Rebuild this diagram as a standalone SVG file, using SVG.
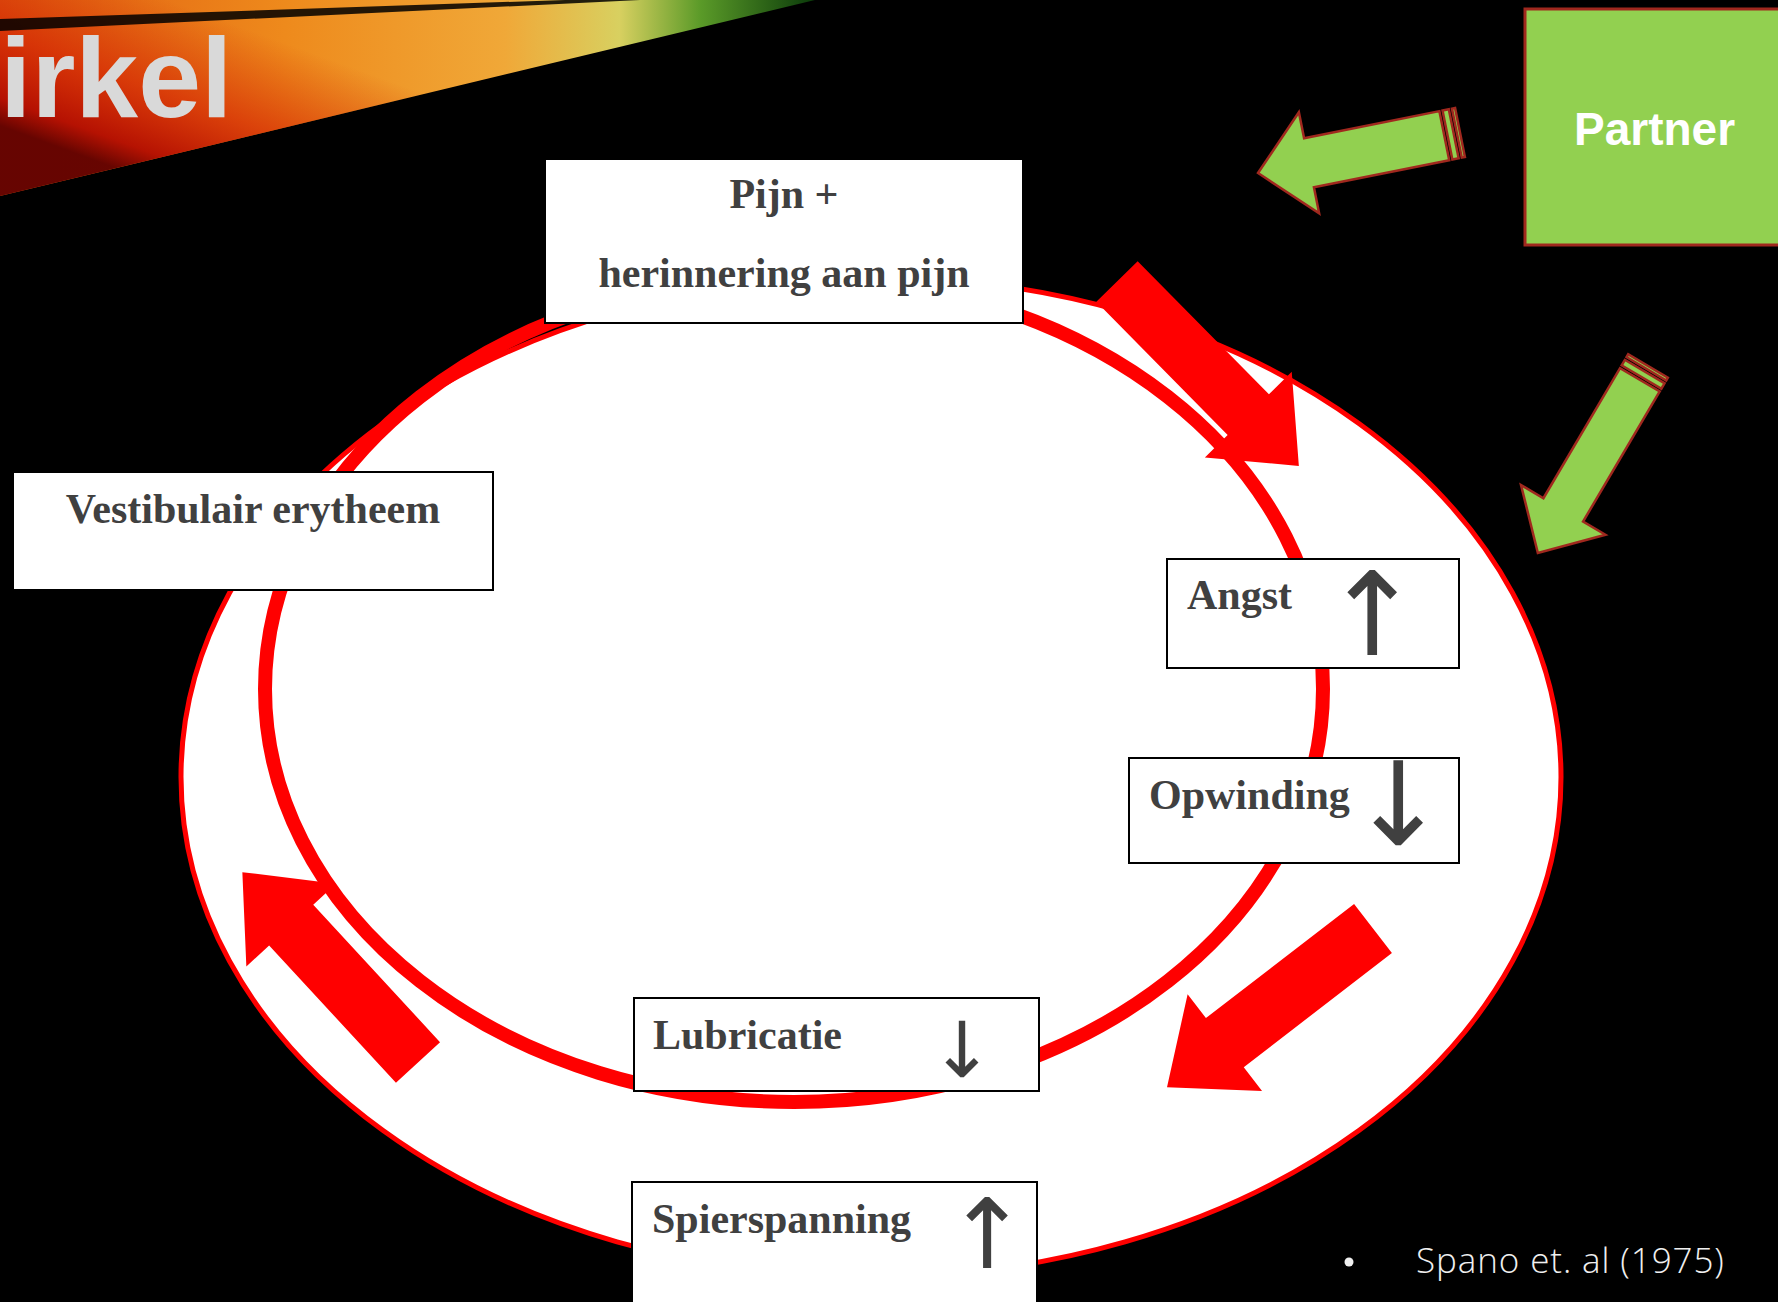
<svg xmlns="http://www.w3.org/2000/svg" width="1778" height="1302" viewBox="0 0 1778 1302">
<defs>
<linearGradient id="streakX" gradientUnits="userSpaceOnUse" x1="0" y1="0" x2="815" y2="0">
<stop offset="0" stop-color="#e05a10"/>
<stop offset="0.35" stop-color="#ee8a1c"/>
<stop offset="0.62" stop-color="#f0a838"/>
<stop offset="0.76" stop-color="#d8d060"/>
<stop offset="0.86" stop-color="#5a9a28"/>
<stop offset="1" stop-color="#0a3a0a"/>
</linearGradient>
<linearGradient id="streakY" gradientUnits="userSpaceOnUse" x1="250" y1="30" x2="190" y2="195">
<stop offset="0" stop-color="#d02000" stop-opacity="0"/>
<stop offset="0.5" stop-color="#d01800" stop-opacity="0.6"/>
<stop offset="0.85" stop-color="#b00800" stop-opacity="0.9"/>
<stop offset="1" stop-color="#600000" stop-opacity="0.95"/>
</linearGradient>
<style>
.box{fill:#fff;stroke:#000;stroke-width:2}
.lbl{font-family:"Liberation Serif","Times New Roman",serif;font-weight:bold;font-size:42px;fill:#404040}
.sym{font-family:"DejaVu Sans",sans-serif;fill:#404040}
.red{fill:#ff0000}
.grn{fill:#92d050;stroke:#a0281e;stroke-width:2.5}
</style>
</defs>
<rect x="0" y="0" width="1778" height="1302" fill="#000"/>
<g id="header">
<polygon points="0,0 815,0 0,196" fill="url(#streakX)"/>
<polygon points="0,0 815,0 0,196" fill="url(#streakY)"/>
<polygon points="0,19 565,0 640,0 0,31" fill="#000" opacity="0.85"/>
<text x="0" y="117" font-family="Liberation Sans, Arial, sans-serif" font-weight="bold" font-size="113" fill="#d9d9d9">irkel</text>
</g>
<g id="cycle">
<ellipse cx="871" cy="777" rx="690" ry="500" fill="#fff" stroke="#ff0000" stroke-width="5"/>
<ellipse cx="794" cy="689" rx="529" ry="413" fill="none" stroke="#ff0000" stroke-width="14"/>
</g>
<g id="connectors">
<polygon class="red" transform="translate(1117,281.5) rotate(45.4)" points="0,-29 187,-29 187,-61 259,0 187,61 187,29 0,29"/>
<polygon class="red" transform="translate(1373,928.5) rotate(142.4)" points="0,-31 187,-31 187,-61 260,0 187,61 187,31 0,31"/>
<polygon class="red" transform="translate(418,1062.5) rotate(-132.7)" points="0,-30 187,-30 187,-61 259,0 187,61 187,30 0,30"/>
<g transform="translate(1460,132.5) rotate(168.66)">
<rect class="grn" x="0" y="-25" width="3.2" height="50"/>
<rect class="grn" x="6.4" y="-25" width="6.4" height="50"/>
<polygon class="grn" points="16,-25 154,-25 154,-51.5 206,0 154,51.5 154,25 16,25"/>
</g>
<g transform="translate(1648,366) rotate(120.5)">
<rect class="grn" x="0" y="-23" width="3.2" height="46"/>
<rect class="grn" x="6.4" y="-23" width="6.4" height="46"/>
<polygon class="grn" points="16,-23 167,-23 167,-49 217,0 167,49 167,23 16,23"/>
</g>
</g>
<g id="node-pijn">
<rect class="box" x="545" y="159" width="478" height="164"/>
<text class="lbl" x="784" y="208" text-anchor="middle">Pijn +</text>
<text class="lbl" x="784" y="287" text-anchor="middle">herinnering aan pijn</text>
</g>
<g id="node-vestibulair">
<rect class="box" x="13" y="472" width="480" height="118"/>
<text class="lbl" x="253" y="523" text-anchor="middle">Vestibulair erytheem</text>
</g>
<g id="node-angst">
<rect class="box" x="1167" y="559" width="292" height="109"/>
<text class="lbl" x="1187" y="609">Angst</text>
<text class="sym" x="1372" y="655" text-anchor="middle" font-size="116">↑</text>
</g>
<g id="node-opwinding">
<rect class="box" x="1129" y="758" width="330" height="105"/>
<text class="lbl" x="1149" y="809">Opwinding</text>
<text class="sym" x="1398" y="845" text-anchor="middle" font-size="116">↓</text>
</g>
<g id="node-lubricatie">
<rect class="box" x="634" y="998" width="405" height="93"/>
<text class="lbl" x="653" y="1049">Lubricatie</text>
<text class="sym" x="962" y="1077" text-anchor="middle" font-size="77">↓</text>
</g>
<g id="node-spierspanning">
<rect class="box" x="632" y="1182" width="405" height="140"/>
<text class="lbl" x="652" y="1233">Spierspanning</text>
<text class="sym" x="987" y="1268" text-anchor="middle" font-size="97">↑</text>
</g>
<g id="node-partner">
<rect x="1525" y="9" width="270" height="236" fill="#92d050" stroke="#a0281e" stroke-width="3"/>
<text x="1574" y="145" font-family="Liberation Sans, Arial, sans-serif" font-weight="bold" font-size="46" fill="#fff">Partner</text>
</g>
<g id="citation">
<circle cx="1349" cy="1262" r="4.5" fill="#f0f0f0"/>
<text x="1416" y="1273" font-family="Open Sans, Liberation Sans, sans-serif" font-weight="300" font-size="35" letter-spacing="0.9" fill="#f0f0f0">Spano et. al (1975)</text>
</g>
</svg>
